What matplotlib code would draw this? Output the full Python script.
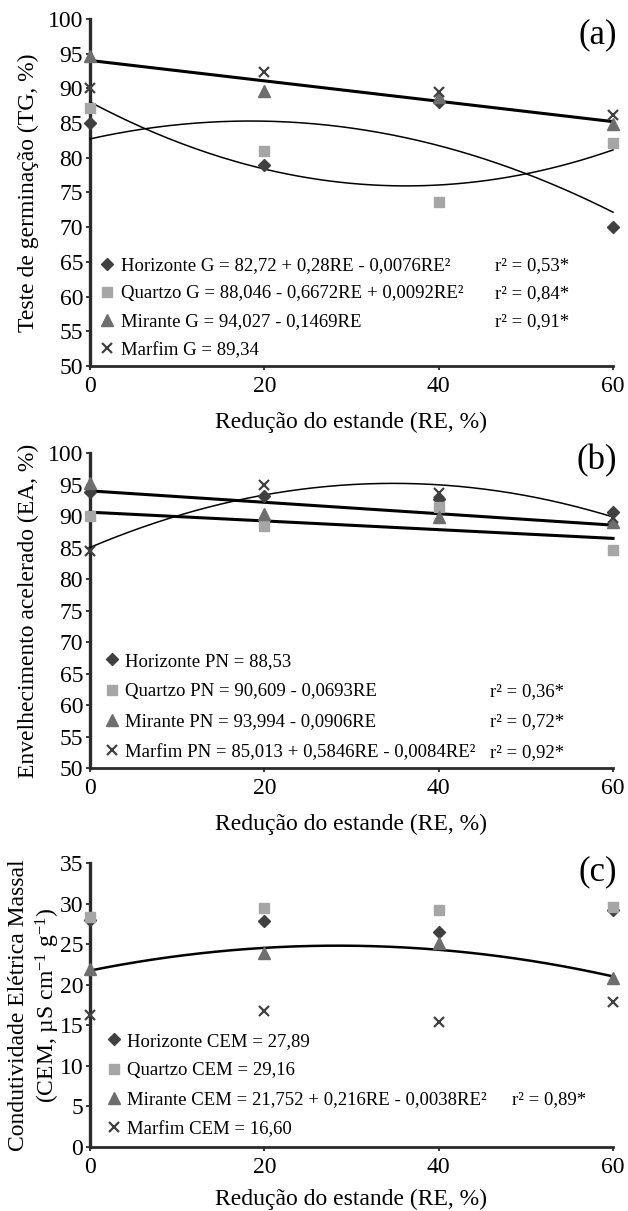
import numpy as np
import matplotlib
matplotlib.use("Agg")
import matplotlib.pyplot as plt

plt.rcParams['font.family'] = ['Liberation Serif', 'DejaVu Serif']
plt.rcParams['mathtext.fontset'] = 'custom'
plt.rcParams['mathtext.rm'] = 'Liberation Serif'
plt.rcParams['mathtext.it'] = 'Liberation Serif:italic'

# níveis de redução do estande (RE, %)
re_niveis = [0, 20, 40, 60]
cultivares = ['Horizonte', 'Quartzo', 'Mirante', 'Marfim']

# (a) teste de germinação (TG, %)
tg_horizonte = [85.0, 79.0, 88.0, 70.0]
tg_quartzo = [87.2, 81.0, 73.6, 82.2]
tg_mirante = [94.6, 89.6, 88.7, 84.8]
tg_marfim = [90.0, 92.3, 89.5, 86.1]

# (b) envelhecimento acelerado (EA, %)
ea_horizonte = [93.8, 93.2, 92.7, 90.7]
ea_quartzo = [90.0, 88.4, 91.4, 84.6]
ea_mirante = [95.3, 90.4, 89.8, 89.1]
ea_marfim = [84.4, 95.0, 93.6, 89.7]

# (c) condutividade elétrica massal (CEM)
cem_horizonte = [28.0, 27.9, 26.5, 29.2]
cem_quartzo = [28.4, 29.5, 29.2, 29.6]
cem_mirante = [22.0, 23.9, 25.1, 20.8]
cem_marfim = [16.3, 16.8, 15.4, 17.9]

# coeficientes das regressões (grau maior primeiro)
coef_tg_horizonte = [-0.0076, 0.28, 82.72]
coef_tg_quartzo = [0.0092, -0.6672, 88.046]
coef_tg_mirante = [-0.1469, 94.027]
coef_ea_quartzo = [-0.0693, 90.609]
coef_ea_mirante = [-0.0906, 93.994]
coef_ea_marfim = [-0.0084, 0.5846, 85.013]
coef_cem_mirante = [-0.0038, 0.216, 21.752]

rotulos_tg = ['Horizonte G = 82,72 + 0,28RE - 0,0076RE²',
              'Quartzo G = 88,046 - 0,6672RE + 0,0092RE²',
              'Mirante G = 94,027 - 0,1469RE',
              'Marfim G = 89,34']
r2_tg = ['r² = 0,53*', 'r² = 0,84*', 'r² = 0,91*', '']

rotulos_ea = ['Horizonte PN = 88,53',
              'Quartzo PN = 90,609 - 0,0693RE',
              'Mirante PN = 93,994 - 0,0906RE',
              'Marfim PN = 85,013 + 0,5846RE - 0,0084RE²']
r2_ea = ['', 'r² = 0,36*', 'r² = 0,72*', 'r² = 0,92*']

rotulos_cem = ['Horizonte CEM = 27,89',
               'Quartzo CEM = 29,16',
               'Mirante CEM = 21,752 + 0,216RE - 0,0038RE²',
               'Marfim CEM = 16,60']
r2_cem = ['', '', 'r² = 0,89*', '']

estilos = {
    'Horizonte': dict(marker='D', color='#404040', ms=6.5),
    'Quartzo': dict(marker='s', color='#a6a6a6', ms=7),
    'Mirante': dict(marker='^', color='#6e6e6e', ms=8),
    'Marfim': dict(marker='x', color='#404040', ms=7.5, mew=1.6),
}

x_curva = np.linspace(0, 60, 200)


def desenhar_pontos(ax, series):
    handles = []
    for nome, valores in zip(cultivares, series):
        h, = ax.plot(re_niveis, valores, linestyle='none', clip_on=False,
                     zorder=4, **estilos[nome])
        handles.append(h)
    return handles


def desenhar_curva(ax, coef, lw):
    ax.plot(x_curva, np.polyval(coef, x_curva), color='black', lw=lw,
            zorder=3, clip_on=False)


def formatar_eixo(ax, ylim, passo, ylabel, letra, ylab_x, letra_y, xlabpad):
    ax.set_xlim(0, 60)
    ax.set_ylim(*ylim)
    ax.set_xticks(re_niveis)
    ax.set_yticks(np.arange(ylim[0], ylim[1] + passo, passo))
    for lado in ['top', 'right']:
        ax.spines[lado].set_visible(False)
    ax.spines['left'].set_linewidth(2.4)
    ax.spines['bottom'].set_linewidth(2.0)
    ax.spines['left'].set_color('#2a2a2a')
    ax.spines['bottom'].set_color('#2a2a2a')
    ax.tick_params(axis='both', direction='out', length=3, width=1.3,
                   color='#2a2a2a', labelsize=17)
    ax.tick_params(axis='x', pad=4)
    ax.tick_params(axis='y', pad=2)
    ax.set_xlabel('Redução do estande (RE, %)', fontsize=17, labelpad=xlabpad)
    ax.set_ylabel(ylabel, fontsize=17)
    ax.yaxis.set_label_coords(ylab_x, 0.5)
    ax.text(1.008, letra_y, letra, transform=ax.transAxes, ha='right',
            va='center', fontsize=25)


def legenda(ax, handles, rotulos, r2, x_leg, y_leg, espac, x_r2):
    leg = ax.legend(handles, rotulos, loc='lower left',
                    bbox_to_anchor=(x_leg, y_leg), frameon=False,
                    fontsize=13.5, handlelength=0.8, handletextpad=0.3,
                    labelspacing=espac, borderpad=0, borderaxespad=0)
    for texto, valor in zip(leg.get_texts(), r2):
        if valor:
            ax.annotate(valor, xy=(x_r2, 0), xycoords=(ax.transAxes, texto),
                        va='bottom', ha='left', fontsize=13.5, zorder=6)


fig = plt.figure(figsize=(6.28, 12.11), dpi=100)
ax_a = fig.add_axes([0.1433, 0.6978, 0.8328, 0.2865])
ax_b = fig.add_axes([0.1433, 0.3658, 0.8328, 0.2601])
ax_c = fig.add_axes([0.1433, 0.0528, 0.8328, 0.2345])

# (a)
h = desenhar_pontos(ax_a, [tg_horizonte, tg_quartzo, tg_mirante, tg_marfim])
desenhar_curva(ax_a, coef_tg_horizonte, 1.1)
desenhar_curva(ax_a, coef_tg_quartzo, 1.1)
desenhar_curva(ax_a, coef_tg_mirante, 2.2)
formatar_eixo(ax_a, (50, 100), 5, 'Teste de germinação (TG, %)', '(a)',
              -0.098, 0.954, 11)
legenda(ax_a, h, rotulos_tg, r2_tg, 0.019, 0.021, 0.59, 0.774)

# (b)
h = desenhar_pontos(ax_b, [ea_horizonte, ea_quartzo, ea_mirante, ea_marfim])
desenhar_curva(ax_b, coef_ea_quartzo, 2.2)
desenhar_curva(ax_b, coef_ea_mirante, 2.2)
desenhar_curva(ax_b, coef_ea_marfim, 1.1)
formatar_eixo(ax_b, (50, 100), 5, 'Envelhecimento acelerado (EA, %)', '(b)',
              -0.098, 0.975, 11)
legenda(ax_b, h, rotulos_ea, r2_ea, 0.027, 0.023, 0.70, 0.765)

# (c)
h = desenhar_pontos(ax_c, [cem_horizonte, cem_quartzo, cem_mirante, cem_marfim])
desenhar_curva(ax_c, coef_cem_mirante, 1.8)
formatar_eixo(ax_c, (0, 35), 5,
              'Condutividade Elétrica Massal\n(CEM, µS cm$^{-1}$ g$^{-1}$)',
              '(c)', -0.054, 0.968, 8)
legenda(ax_c, h, rotulos_cem, r2_cem, 0.031, 0.033, 0.645, 0.807)

fig.savefig('out.png', dpi=100)
